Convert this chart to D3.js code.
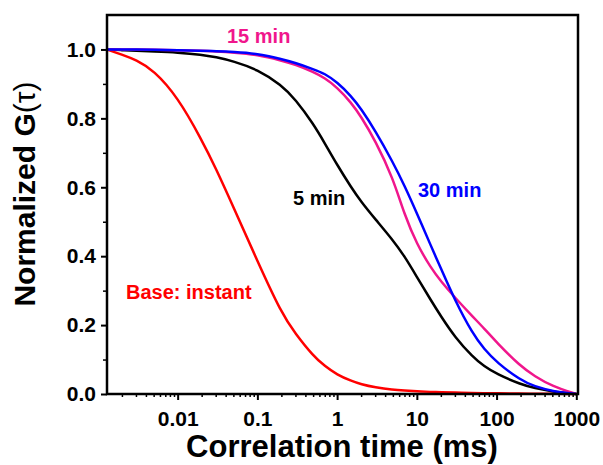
<!DOCTYPE html>
<meta charset="utf-8">
<script src="https://d3js.org/d3.v7.min.js"></script>
<style>
body { margin:0; background:#fff; }
svg { font-family: Arial, "Liberation Sans", sans-serif; }
.axis path.domain { stroke:none; }
.axis line { stroke:#000; stroke-width:2px; }
.axis text { font-size:21px; font-weight:bold; fill:#000; }
.minor line { stroke-width:1.5px; }
.curve { fill:none; stroke-width:2.5px; }
.note { font-size:20px; font-weight:bold; }
.title { font-weight:bold; fill:#000; }
</style>
<body></body>
<script>

// correlation time (ms)
var tau = [0.0013, 0.002, 0.003, 0.005, 0.01, 0.02, 0.03, 0.05, 0.1, 0.2, 0.3, 0.5, 0.7,
           1, 1.5, 2, 3, 5, 7, 10, 15, 20, 30, 50, 70, 100, 200, 300, 500, 1000];

// normalized G(tau) for each sample
var gBase  = [1.0, 0.985, 0.97, 0.94, 0.862, 0.738, 0.656, 0.543, 0.386, 0.235, 0.175, 0.111, 0.081,
              0.056, 0.038, 0.028, 0.019, 0.012, 0.01, 0.008, 0.006, 0.005, 0.004, 0.003, 0.002, 0.002, 0.001, 0.001, 0.001, 0.0];
var g5min  = [1.0, 0.998, 0.996, 0.994, 0.991, 0.985, 0.978, 0.966, 0.942, 0.897, 0.855, 0.785, 0.728,
              0.665, 0.6, 0.558, 0.508, 0.447, 0.4, 0.34, 0.272, 0.226, 0.165, 0.108, 0.08, 0.058, 0.028, 0.017, 0.007, 0.0];
var g15min = [1.0, 1.0, 1.0, 0.999, 0.998, 0.996, 0.994, 0.991, 0.985, 0.968, 0.956, 0.935, 0.917,
              0.89, 0.846, 0.805, 0.736, 0.628, 0.52, 0.435, 0.366, 0.327, 0.28, 0.225, 0.19, 0.15, 0.08, 0.052, 0.022, 0.0];
var g30min = [1.0, 1.0, 1.0, 0.999, 0.998, 0.996, 0.995, 0.993, 0.988, 0.972, 0.961, 0.943, 0.93,
              0.905, 0.865, 0.828, 0.765, 0.673, 0.605, 0.525, 0.43, 0.365, 0.272, 0.175, 0.13, 0.092, 0.04, 0.022, 0.008, 0.0];

var xTicks = [0.01, 0.1, 1, 10, 100, 1000];
var xTickLabels = ["0.01", "0.1", "1", "10", "100", "1000"];
var yTicks = [0, 0.2, 0.4, 0.6, 0.8, 1.0];
var yMinorTicks = [0.1, 0.3, 0.5, 0.7, 0.9];

var series = [
  {name: "Base: instant", values: gBase,  color: "#ff0000", lx: 126, ly: 299},
  {name: "5 min",         values: g5min,  color: "#000000", lx: 293, ly: 205},
  {name: "15 min",        values: g15min, color: "#f0168c", lx: 227, ly: 43},
  {name: "30 min",        values: g30min, color: "#0000ff", lx: 418, ly: 197}
];

var plotLeft = 107, plotRight = 578, plotTop = 15, plotBottom = 394;

var svg = d3.select("body").append("svg")
  .attr("width", 603)
  .attr("height", 465);

var x = d3.scaleLog()
  .domain([0.0013, 1050])
  .range([plotLeft, plotRight]);

var y = d3.scaleLinear()
  .domain([0, 1.1])
  .range([plotBottom, plotTop]);

// minor x ticks: 2..9 in every decade inside the domain
var xMinor = [];
[0.001, 0.01, 0.1, 1, 10, 100].forEach(function(dec) {
  for (var k = 2; k <= 9; k++) {
    var v = dec * k;
    if (v >= x.domain()[0] && v <= x.domain()[1]) xMinor.push(v);
  }
});

var line = d3.line()
  .x(function(d) { return x(d[0]); })
  .y(function(d) { return y(d[1]); })
  .curve(d3.curveBasis);

series.forEach(function(s) {
  svg.append("path")
    .attr("class", "curve")
    .attr("stroke", s.color)
    .attr("d", line(d3.zip(tau, s.values)));
});

series.forEach(function(s) {
  svg.append("text")
    .attr("class", "note")
    .attr("x", s.lx)
    .attr("y", s.ly)
    .attr("fill", s.color)
    .text(s.name);
});

// frame
svg.append("rect")
  .attr("x", plotLeft)
  .attr("y", plotTop)
  .attr("width", plotRight - plotLeft)
  .attr("height", plotBottom - plotTop)
  .attr("fill", "none")
  .attr("stroke", "#000")
  .attr("stroke-width", 2.5);

svg.append("g")
  .attr("class", "axis")
  .attr("transform", "translate(0," + plotBottom + ")")
  .call(d3.axisBottom(x).tickValues(xTicks)
    .tickFormat(function(d, i) { return xTickLabels[i]; })
    .tickSize(6).tickSizeOuter(0).tickPadding(11));

svg.append("g")
  .attr("class", "axis minor")
  .attr("transform", "translate(0," + plotBottom + ")")
  .call(d3.axisBottom(x).tickValues(xMinor).tickFormat("").tickSize(3).tickSizeOuter(0));

svg.append("g")
  .attr("class", "axis")
  .attr("transform", "translate(" + plotLeft + ",0)")
  .call(d3.axisLeft(y).tickValues(yTicks)
    .tickFormat(d3.format(".1f"))
    .tickSize(6).tickSizeOuter(0).tickPadding(5));

svg.append("g")
  .attr("class", "axis minor")
  .attr("transform", "translate(" + plotLeft + ",0)")
  .call(d3.axisLeft(y).tickValues(yMinorTicks).tickFormat("").tickSize(4).tickSizeOuter(0));

svg.append("text")
  .attr("class", "title")
  .attr("x", 342)
  .attr("y", 457)
  .attr("text-anchor", "middle")
  .attr("font-size", 31)
  .text("Correlation time (ms)");

var yt = svg.append("text")
  .attr("class", "title")
  .attr("transform", "translate(35,194) rotate(-90)")
  .attr("text-anchor", "middle")
  .attr("font-size", 30);
yt.append("tspan").text("Normalized G");
yt.append("tspan").attr("font-weight", "normal").text("(\u03c4)");

</script>
